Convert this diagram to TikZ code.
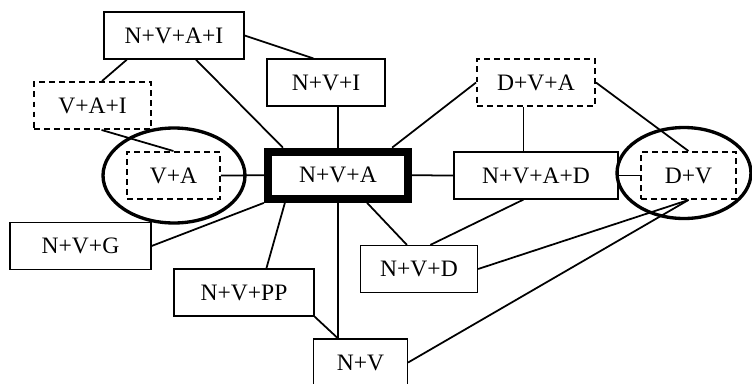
\documentclass[tikz,border=0pt]{standalone}
\usepackage{fontspec}
\setmainfont{Liberation Serif}
\usetikzlibrary{shapes.geometric}

\begin{document}
\begin{tikzpicture}[x=0.02cm, y=-0.02cm,
    every node/.style={font=\fontsize{13.4}{15}\selectfont, inner sep=0pt, minimum height=0.94cm},
    box/.style={draw, line width=0.7pt},
    dashbox/.style={draw, line width=1.1pt, dash pattern=on 3.4pt off 2.3pt},
    mainbox/.style={draw, line width=4.7pt},
    ring/.style={draw, ellipse, line width=1.9pt},
    link/.style={line width=1pt}]
    \useasboundingbox (0,0) rectangle (752,383);

    % the rings
    \node[ring, minimum width=2.84cm, minimum height=1.9cm] (ringva) at (174,175.5) {};
    \node[ring, minimum width=2.68cm, minimum height=1.82cm] (ringdv) at (684,173) {};

    % the boxes
    \node[box, minimum width=2.8cm] (nvai) at (174,35.5) {N+V+A+I};
    \node[box, minimum width=2.36cm] (nvi) at (326,82.5) {N+V+I};
    \node[dashbox, minimum width=2.34cm] (vai) at (92.5,105.5) {V+A+I};
    \node[dashbox, minimum width=1.86cm] (va) at (173.5,175.5) {V+A};
    \node[mainbox, minimum width=2.8cm] (nva) at (338,175.25) {N+V+A};
    \node[dashbox, minimum width=2.36cm] (dva) at (536,82.5) {D+V+A};
    \node[box, minimum width=3.28cm] (nvad) at (536,175.5) {N+V+A+D};
    \node[dashbox, minimum width=1.9cm] (dv) at (688.5,175.5) {D+V};
    \node[box, minimum width=2.82cm] (nvg) at (80.5,246) {N+V+G};
    \node[box, minimum width=2.8cm] (nvpp) at (244,292.5) {N+V+PP};
    \node[box, minimum width=2.34cm] (nvd) at (419,269) {N+V+D};
    \node[box, minimum width=1.88cm] (nv) at (360.5,362.5) {N+V};

    \coordinate (nvtop) at (nva.south |- nv.north);

    % the links
    \draw[link] (nvai.east) -- ([xshift=0.94cm]nvi.north west);
    \draw[link] ([xshift=0.47cm]nvai.south west) -- ([xshift=1.38cm]vai.north west);
    \draw[link] ([xshift=1.85cm]nvai.south west) -- ([xshift=0.38cm]nva.north west);
    \draw[link] (nva.north) -- (nva.north |- nvi.south);
    \draw[link] ([xshift=1.37cm]vai.south west) -- (va.north);
    \draw[link] (va.east) -- (nva.west);
    \draw[link] ([xshift=-0.4cm]nva.north east) -- (dva.west);
    \draw[link] ([xshift=0.95cm]dva.south west) -- ([xshift=0.95cm]dva.south west |- nvad.north);
    \draw[link] (dva.east) -- (dv.north);
    \draw[link] (nva.east) -- (nvad.west);
    \draw[link] (nvad.east) -- (dv.west);
    \draw[link] (nva.south west) -- (nvg.east);
    \draw[link] ([xshift=0.42cm]nva.south west) -- ([xshift=1.86cm]nvpp.north west);
    \draw[link] (nva.south) -- (nvtop);
    \draw[link] (nvpp.south east) -- (nvtop);
    \draw[link] ([xshift=-0.9cm]nva.south east) -- ([xshift=0.94cm]nvd.north west);
    \draw[link] ([xshift=1.4cm]nvad.south west) -- ([xshift=1.41cm]nvd.north west);
    \draw[link] (dv.south) -- (nvd.east);
    \draw[link] (dv.south) -- (nv.east);
\end{tikzpicture}
\end{document}
